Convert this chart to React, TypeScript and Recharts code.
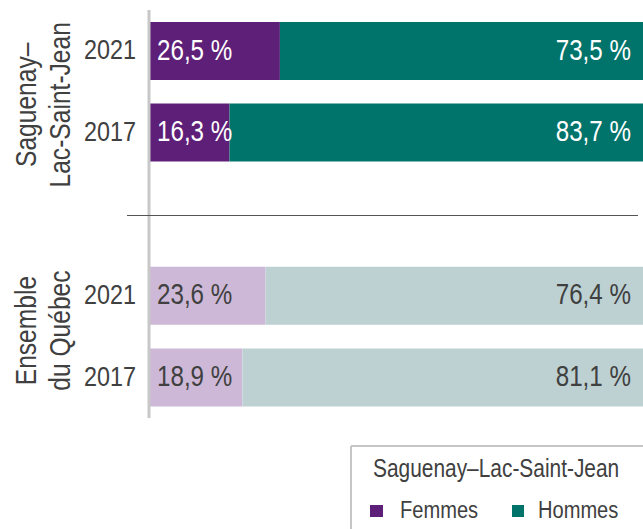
import { BarChart, Bar, XAxis, YAxis, Cell, LabelList, Legend } from "recharts";

const rowYears = ["2021", "2017", "", "2021", "2017"];
const rowGroups = ["slsj", "slsj", "", "qc", "qc"];
const femmes = [26.5, 16.3, null, 23.6, 18.9];
const hommes = [73.5, 83.7, null, 76.4, 81.1];

const groupLabels: Record<string, string[]> = {
  slsj: ["Saguenay–", "Lac-Saint-Jean"],
  qc: ["Ensemble", "du Québec"],
};
const legendTitle = "Saguenay–Lac-Saint-Jean";
const legendItems = ["Femmes", "Hommes"];

// Liberation Sans squeezed to Arial Narrow proportions
const FONT = "'Liberation Sans', Arial, sans-serif";
const NARROW = 0.82;
const TEXT = "#404040";
const DARK = { f: "#5e1f78", h: "#00736b" };
const LIGHT = { f: "#cdb9d7", h: "#bdd1d3" };
// vertical offset of the rotated group label from the first row of the group
const groupLabelShift: Record<string, number> = { slsj: 54, qc: 35 };

const data = rowYears.map((year, i) => ({
  key: `${rowGroups[i]}-${year || i}`,
  year,
  group: rowGroups[i],
  femmes: femmes[i],
  hommes: hommes[i],
}));

const fmt = (v: number) => v.toFixed(1).replace(".", ",") + " %";

const NText = ({ x, y, rotate = 0, anchor = "start", size, fill = TEXT, children }: any) => (
  <text
    transform={`translate(${x},${y}) rotate(${rotate}) scale(${NARROW},1)`}
    textAnchor={anchor}
    fontSize={size}
    fill={fill}
    fontFamily={FONT}
  >
    {children}
  </text>
);

const YearTick = (props: any) => {
  const { y, index } = props;
  const row = data[index];
  if (!row || !row.year) return null;
  const lines = row.year === "2021" ? groupLabels[row.group] : null;
  const cy = y + (groupLabelShift[row.group] || 40);
  return (
    <g>
      <NText x={136} y={y + 8.5} anchor="end" size={28.5}>
        {row.year}
      </NText>
      {lines &&
        lines.map((l, k) => (
          <NText key={k} x={35.5 + k * 34.5} y={cy} rotate={-90} anchor="middle" size={30}>
            {l}
          </NText>
        ))}
    </g>
  );
};

const makeLabel = (side: "left" | "right") => (props: any) => {
  const { x, y, width, height, value, index } = props;
  if (value == null) return null;
  const dark = data[index].group === "slsj";
  return (
    <NText
      x={side === "left" ? x + 8 : x + width - 12}
      y={y + height / 2 + 8.5}
      anchor={side === "left" ? "start" : "end"}
      size={29.5}
      fill={dark ? "#ffffff" : TEXT}
    >
      {fmt(value)}
    </NText>
  );
};

const LegendBox = () => (
  <svg width={293} height={84} style={{ display: "block" }}>
    <line x1={1} y1={1} x2={293} y2={1} stroke="#c6c6c6" strokeWidth={2} />
    <line x1={1} y1={1} x2={1} y2={84} stroke="#c6c6c6" strokeWidth={2} />
    <NText x={23} y={32} size={25.5}>
      {legendTitle}
    </NText>
    <rect x={20} y={60} width={13} height={12} fill={DARK.f} />
    <NText x={50} y={73} size={24.5}>
      {legendItems[0]}
    </NText>
    <rect x={162} y={60} width={12} height={12} fill={DARK.h} />
    <NText x={188} y={73} size={24.5}>
      {legendItems[1]}
    </NText>
  </svg>
);

export default function App() {
  return (
    <div style={{ position: "relative", width: 643, height: 529, overflow: "hidden" }}>
      <style>{`body{margin:0}`}</style>
      <BarChart
        width={643}
        height={529}
        data={data}
        layout="vertical"
        margin={{ top: 10, right: 0, bottom: 27, left: 0 }}
        barSize={58}
      >
        <XAxis type="number" domain={[0, 100]} hide />
        <YAxis
          type="category"
          dataKey="key"
          width={149}
          tickLine={false}
          axisLine={{ stroke: "#c8c8c8", strokeWidth: 3 }}
          tick={<YearTick />}
          interval={0}
        />
        <Bar dataKey="femmes" stackId="a" isAnimationActive={false} name="Femmes" fill={DARK.f}>
          {data.map((d, i) => (
            <Cell key={i} fill={d.group === "slsj" ? DARK.f : LIGHT.f} />
          ))}
          <LabelList dataKey="femmes" content={makeLabel("left")} />
        </Bar>
        <Bar dataKey="hommes" stackId="a" isAnimationActive={false} name="Hommes" fill={DARK.h}>
          {data.map((d, i) => (
            <Cell key={i} fill={d.group === "slsj" ? DARK.h : LIGHT.h} />
          ))}
          <LabelList dataKey="hommes" content={makeLabel("right")} />
        </Bar>
        <Legend
          content={<LegendBox />}
          wrapperStyle={{ position: "absolute", left: 350, top: 445, width: 293, height: 84 }}
        />
      </BarChart>
      <div
        style={{
          position: "absolute",
          left: 127,
          top: 215,
          width: 511,
          height: 1,
          background: "#555555",
        }}
      />
    </div>
  );
}
